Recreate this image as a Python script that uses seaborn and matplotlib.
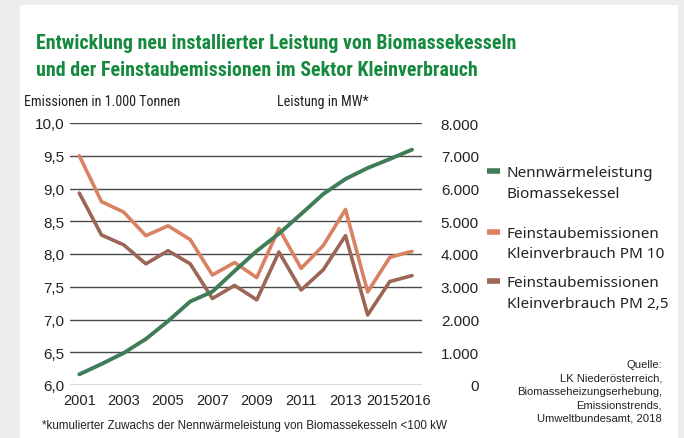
import matplotlib
matplotlib.use("Agg")
import matplotlib.pyplot as plt
import matplotlib.transforms as mtransforms
from matplotlib.patches import Rectangle
from matplotlib.lines import Line2D
from matplotlib import font_manager
from matplotlib.font_manager import FontProperties
import seaborn as sns
import pandas as pd

# ---------------- data ----------------
years = list(range(2001, 2017))
pm10 = [9.50, 8.80, 8.64, 8.28, 8.43, 8.22, 7.68, 7.87, 7.64, 8.39, 7.78, 8.13, 8.68, 7.42, 7.95, 8.04]
pm25 = [8.93, 8.29, 8.14, 7.85, 8.05, 7.85, 7.32, 7.52, 7.30, 8.03, 7.45, 7.76, 8.28, 7.07, 7.58, 7.67]
leistung = [326, 641, 977, 1405, 1950, 2550, 2850, 3481, 4092, 4621, 5221, 5832, 6290, 6626, 6900, 7186]

x_ticks = [2001, 2003, 2005, 2007, 2009, 2011, 2013, 2015, 2016]
left_ticks = [6.0, 6.5, 7.0, 7.5, 8.0, 8.5, 9.0, 9.5, 10.0]
left_labels = ["6,0", "6,5", "7,0", "7,5", "8,0", "8,5", "9,0", "9,5", "10,0"]
right_ticks = [0, 1000, 2000, 3000, 4000, 5000, 6000, 7000, 8000]
right_labels = ["0", "1.000", "2.000", "3.000", "4.000", "5.000", "6.000", "7.000", "8.000"]

names = ["Nennwärmeleistung\nBiomassekessel",
         "Feinstaubemissionen\nKleinverbrauch PM 10",
         "Feinstaubemissionen\nKleinverbrauch PM 2,5"]

title1 = "Entwicklung neu installierter Leistung von Biomassekesseln"
title2 = "und der Feinstaubemissionen im Sektor Kleinverbrauch"
ylabel_left = "Emissionen in 1.000 Tonnen"
ylabel_right = "Leistung in MW*"
footnote = "*kumulierter Zuwachs der Nennwärmeleistung von Biomassekesseln <100 kW"
source = "Quelle:\nLK Niederösterreich,\nBiomasseheizungserhebung,\nEmissionstrends,\nUmweltbundesamt, 2018"

c_green = "#3f7c58"
c_orange = "#d88262"
c_brown = "#9b6656"
c_title = "#15893d"
c_text = "#222222"

# ---------------- fonts ----------------
sns.set_theme(style="white")
plt.rcParams["font.family"] = ["Liberation Sans", "DejaVu Sans"]


def _wnum(w):
    table = {"normal": 400, "regular": 400, "book": 400, "medium": 500, "light": 300,
             "semibold": 600, "demibold": 600, "bold": 700, "heavy": 800, "black": 900}
    if isinstance(w, (int, float)):
        return int(w)
    return table.get(str(w).lower(), 400)


def condensed(bold):
    """Find a condensed/narrow font file, falling back to Liberation Sans."""
    best = None
    for f in font_manager.fontManager.ttflist:
        st = str(f.stretch).lower()
        is_narrow = ("condensed" in st or "narrow" in st or "Narrow" in f.name
                     or "Condensed" in f.name)
        if not is_narrow or f.style != "normal":
            continue
        w = _wnum(f.weight)
        if bold and w < 600:
            continue
        if not bold and (w < 350 or w > 500):
            continue
        score = 0 if "Liberation" in f.name else (1 if "Roboto" in f.name else 2)
        if best is None or score < best[0]:
            best = (score, f.fname)
    if best is not None:
        return FontProperties(fname=best[1]), True
    return FontProperties(family="Liberation Sans", weight="bold" if bold else "normal"), False


title_fp, have_cond = condensed(True)
text_fp, _ = condensed(False)

W, H = 684, 439
fig = plt.figure(figsize=(W / 100, H / 100), dpi=100)
fig.patch.set_facecolor("#ededed")


def px(x, y):
    return x / W, 1 - y / H


# white panel
fig.add_artist(Rectangle(px(20, 439), 658 / W, 433 / H, transform=fig.transFigure,
                         facecolor="white", edgecolor="none", zorder=0))

ax = fig.add_axes([70 / W, 53 / H, 352 / W, 262 / H])
ax.set_facecolor("none")
ax2 = ax.twinx()

df = pd.DataFrame({"Jahr": years * 2,
                   "Wert": pm10 + pm25,
                   "Serie": [names[1]] * len(years) + [names[2]] * len(years)})
sns.lineplot(data=df, x="Jahr", y="Wert", hue="Serie", palette=[c_orange, c_brown],
             ax=ax, legend=False, linewidth=2.6, zorder=3)
sns.lineplot(x=years, y=leistung, ax=ax2, color=c_green, linewidth=2.8, zorder=4)

ax.set_xlim(2000.58, 2016.45)
ax.set_ylim(6, 10)
ax2.set_ylim(0, 8000)

ax.set_yticks(left_ticks)
ax.set_yticklabels(left_labels)
ax2.set_yticks(right_ticks)
ax2.set_yticklabels(right_labels)
ax.set_xticks(x_ticks)
ax.set_xticklabels([str(t) for t in x_ticks])

ax.grid(axis="y", color="#4a4a4a", linewidth=1.0)
ax.grid(axis="x", visible=False)
ax2.grid(False)
for a in (ax, ax2):
    for s in a.spines.values():
        s.set_visible(False)
    a.set_xlabel("")
    a.set_ylabel("")

ax.tick_params(axis="y", length=0, pad=4, labelsize=11, labelcolor=c_text)
ax.tick_params(axis="x", length=0, pad=6, labelsize=10.5, labelcolor=c_text)
ax2.tick_params(axis="y", length=0, pad=41, labelsize=11, labelcolor=c_text)
for lab in ax2.get_yticklabels():
    lab.set_horizontalalignment("right")

# nudge crowded last x labels
xl = ax.get_xticklabels()
xl[-2].set_transform(xl[-2].get_transform() + mtransforms.ScaledTranslation(-7 / 100, 0, fig.dpi_scale_trans))
xl[-1].set_transform(xl[-1].get_transform() + mtransforms.ScaledTranslation(3 / 100, 0, fig.dpi_scale_trans))

# titles
tsize = 14.3 if have_cond else 12.6
fig.text(*px(36, 49), title1, fontproperties=title_fp, fontsize=tsize, color=c_title,
         va="baseline", ha="left")
fig.text(*px(36, 76), title2, fontproperties=title_fp, fontsize=tsize, color=c_title,
         va="baseline", ha="left")
lsize = 10.2 if have_cond else 9.2
fig.text(*px(24, 106), ylabel_left, fontproperties=text_fp, fontsize=lsize, color=c_text,
         va="baseline", ha="left")
fig.text(*px(277, 106), ylabel_right, fontproperties=text_fp, fontsize=lsize, color=c_text,
         va="baseline", ha="left")

# legend (manual)
leg_y = [172, 233, 282]
for col, yy, nm in zip([c_green, c_orange, c_brown], leg_y, names):
    x0, y0 = px(487, yy)
    x1, _ = px(500, yy)
    fig.add_artist(Line2D([x0, x1], [y0, y0], transform=fig.transFigure, color=col,
                          linewidth=4, solid_capstyle="butt"))
    fig.text(*px(507, yy - 6), nm, fontsize=11, color=c_text, va="top", ha="left",
             family=["Noto Sans", "DejaVu Sans"], linespacing=1.5)

fig.text(*px(662, 360), source, fontsize=8.1, color=c_text, ha="right", va="top",
         linespacing=1.42)
fig.text(*px(42, 429), footnote, fontsize=8.4, color=c_text, ha="left", va="baseline")

fig.savefig("out.png", dpi=100, facecolor=fig.get_facecolor())
